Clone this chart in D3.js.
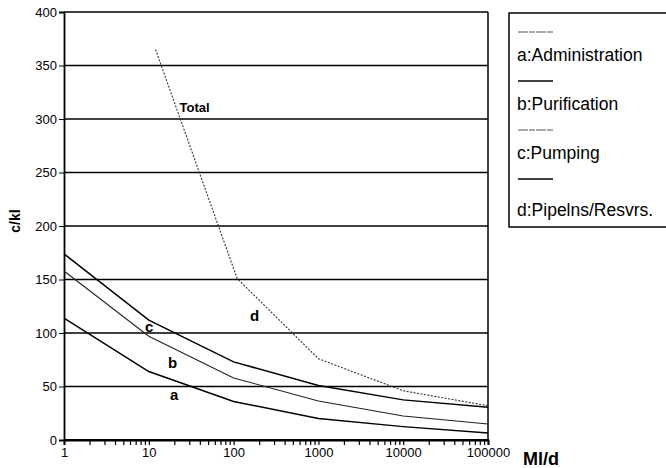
<!DOCTYPE html>
<html>
<head>
<meta charset="utf-8">
<script src="https://cdn.jsdelivr.net/npm/d3@7"></script>
<style>
  body { margin: 0; background: #fff; }
  svg { font-family: "Liberation Sans", Arial, sans-serif; }
</style>
</head>
<body>
<div id="chart"></div>
<script>
// flow in Ml/d and the cost in c/kl for each part
var flows = [1, 10, 100, 1000, 10000, 100000];
var admin = [114, 64, 36, 20, 12.5, 6.5];
var purif = [158, 97, 58, 36.5, 22.5, 15];
var pump = [174, 112, 73, 51, 37.5, 30.5];

// pipelines / reservoirs (total) only starts around 12 Ml/d
var totalFlows = [12, 110, 1000, 10000, 100000];
var totalCost = [365, 151, 76, 46, 32];

var yTicks = [0, 50, 100, 150, 200, 250, 300, 350, 400];
var xLabels = ["1", "10", "100", "1000", "10000", "100000"];
var legendNames = ["a:Administration", "b:Purification", "c:Pumping", "d:Pipelns/Resvrs."];

// curve labels, in data units
var curveLabels = [
  {text: "Total", x: 23, y: 307, size: 13},
  {text: "d", x: 156, y: 111, size: 15},
  {text: "c", x: 9, y: 101, size: 15},
  {text: "b", x: 16.8, y: 67, size: 15},
  {text: "a", x: 17.8, y: 37, size: 15}
];

var width = 666, height = 468;

var svg = d3.select("#chart")
    .append("svg")
    .attr("width", width)
    .attr("height", height);

var x = d3.scaleLog()
    .domain([1, 100000])
    .range([64, 488]);

var y = d3.scaleLinear()
    .domain([0, 400])
    .range([440, 12]);

// grid lines
svg.append("g")
    .selectAll("line")
    .data(yTicks)
    .enter()
    .append("line")
    .attr("x1", x(1))
    .attr("x2", x(100000))
    .attr("y1", function(d) { return y(d); })
    .attr("y2", function(d) { return y(d); })
    .attr("stroke", "#000")
    .attr("stroke-width", function(d) { return d == 0 ? 2 : 1.3; });

// right border
svg.append("line")
    .attr("x1", x(100000)).attr("x2", x(100000))
    .attr("y1", y(400)).attr("y2", y(0))
    .attr("stroke", "#000")
    .attr("stroke-width", 1.5);

// y axis
var yAxis = svg.append("g")
    .attr("transform", "translate(" + x(1) + ",0)")
    .call(d3.axisLeft(y).tickValues(yTicks).tickSize(5).tickPadding(2));
yAxis.select(".domain").attr("stroke-width", 1.8);
yAxis.selectAll("text")
    .style("font-size", "13px")
    .attr("fill", "#000");

// x axis with log minor ticks
var xTickVals = [];
for (var p = 0; p < 5; p++) {
  for (var m = 1; m < 10; m++) xTickVals.push(m * Math.pow(10, p));
}
xTickVals.push(100000);

var xAxis = svg.append("g")
    .attr("transform", "translate(0," + y(0) + ")")
    .call(d3.axisBottom(x)
        .tickValues(xTickVals)
        .tickSize(5)
        .tickPadding(3)
        .tickFormat(function(d) {
          var i = flows.indexOf(d);
          return i >= 0 ? xLabels[i] : "";
        }));
xAxis.select(".domain").attr("stroke-width", 2);
xAxis.selectAll("line").attr("stroke-width", 1.2);
xAxis.selectAll("text")
    .style("font-size", "13px")
    .attr("fill", "#000");

// axis titles
svg.append("text")
    .attr("transform", "translate(20,221)rotate(-90)")
    .attr("text-anchor", "middle")
    .style("font-size", "14px")
    .style("font-weight", "bold")
    .text("c/kl");

svg.append("text")
    .attr("x", 523)
    .attr("y", 465)
    .style("font-size", "18px")
    .style("font-weight", "bold")
    .text("Ml/d");

// cost curves
var line = d3.line()
    .x(function(d) { return x(d[0]); })
    .y(function(d) { return y(d[1]); });

var series = [
  {vals: admin, width: 1.5, color: "#000"},
  {vals: purif, width: 1.1, color: "#222"},
  {vals: pump, width: 1.5, color: "#000"}
];

series.forEach(function(s) {
  svg.append("path")
      .datum(d3.zip(flows, s.vals))
      .attr("fill", "none")
      .attr("stroke", s.color)
      .attr("stroke-width", s.width)
      .attr("d", line);
});

svg.append("path")
    .datum(d3.zip(totalFlows, totalCost))
    .attr("fill", "none")
    .attr("stroke", "#333")
    .attr("stroke-width", 1.1)
    .attr("stroke-dasharray", "2,1.5")
    .attr("d", line);

// curve labels
svg.selectAll(".clabel")
    .data(curveLabels)
    .enter()
    .append("text")
    .attr("class", "clabel")
    .attr("x", function(d) { return x(d.x); })
    .attr("y", function(d) { return y(d.y); })
    .style("font-size", function(d) { return d.size + "px"; })
    .style("font-weight", "bold")
    .text(function(d) { return d.text; });

// legend box, runs off the right edge
var legend = svg.append("g");
legend.append("rect")
    .attr("x", 509)
    .attr("y", 13)
    .attr("width", 200)
    .attr("height", 214)
    .attr("fill", "none")
    .attr("stroke", "#000")
    .attr("stroke-width", 1.5);

legendNames.forEach(function(name, i) {
  var ly = 32 + i * 49;
  legend.append("line")
      .attr("x1", 518).attr("x2", 553)
      .attr("y1", ly).attr("y2", ly)
      .attr("stroke", i % 2 == 0 ? "#555" : "#000")
      .attr("stroke-width", i % 2 == 0 ? 1 : 1.6)
      .attr("stroke-dasharray", i % 2 == 0 ? "10,1,6,1" : null);
  legend.append("text")
      .attr("x", 517)
      .attr("y", ly + (i == 3 ? 37 : 29))
      .style("font-size", "17.5px")
      .text(name);
});
</script>
</body>
</html>
